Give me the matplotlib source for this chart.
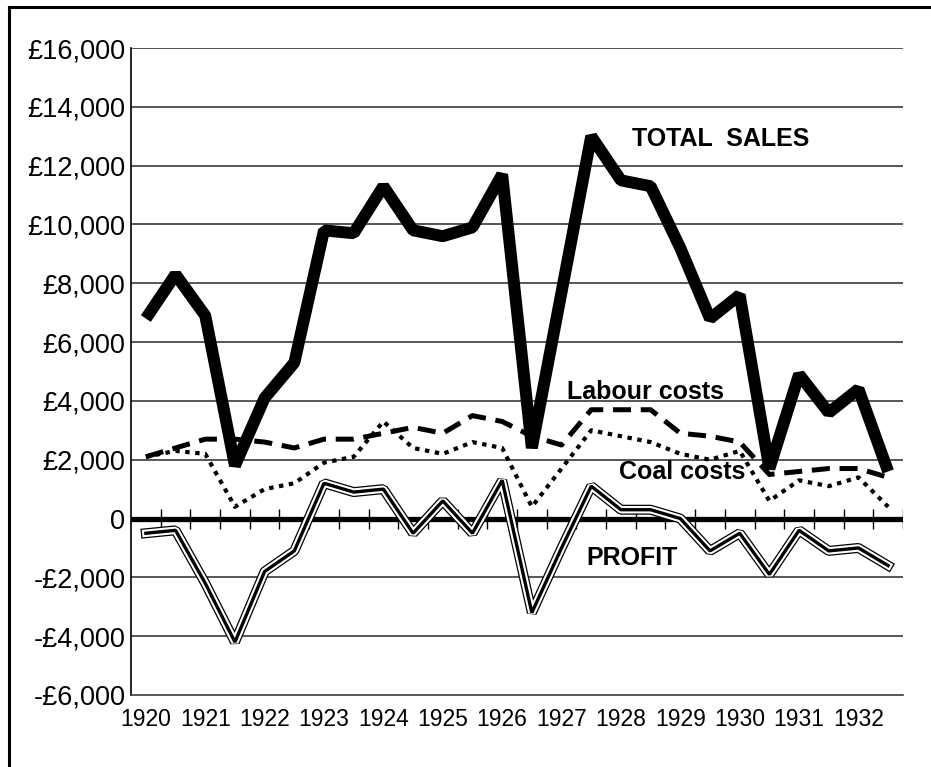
import matplotlib
matplotlib.use("Agg")
import matplotlib.pyplot as plt
from matplotlib.lines import Line2D

# half-year points, 1920 .. 1932.5
years = [str(y) for y in range(1920, 1933)]
sales = [6800, 8300, 6900, 1800, 4100, 5300, 9800, 9700, 11300, 9800, 9600, 9900, 11700,
         2400, 7700, 13000, 11500, 11300, 9200, 6800, 7600, 1700, 4900, 3600, 4400, 1600]
labour = [2100, 2400, 2700, 2700, 2600, 2400, 2700, 2700, 2900, 3100, 2900, 3500, 3300,
          2800, 2500, 3700, 3700, 3700, 2900, 2800, 2600, 1500, 1600, 1700, 1700, 1400]
coal = [2100, 2300, 2200, 400, 1000, 1200, 1900, 2100, 3300, 2400, 2200, 2600, 2400,
        400, 1700, 3000, 2800, 2600, 2200, 2000, 2300, 600, 1300, 1100, 1400, 400]
profit = [-500, -400, -2200, -4200, -1800, -1100, 1200, 900, 1000, -500, 600, -500, 1300,
          -3200, -1000, 1100, 300, 300, 0, -1100, -500, -1900, -400, -1100, -1000, -1600]
yticks = list(range(-6000, 16001, 2000))

plt.rcParams['lines.scale_dashes'] = False
W, H = 931, 767
fig = plt.figure(figsize=(W / 100, H / 100), dpi=100)
fig.patch.set_facecolor('white')

# frame round the picture (cut off at right and bottom)
fig.add_artist(Line2D([8.5 / W, 8.5 / W], [0, 1 - 7 / H], color='black', lw=2.2))
fig.add_artist(Line2D([8.5 / W, 1], [1 - 7 / H, 1 - 7 / H], color='black', lw=2.2))

ax = fig.add_axes([131 / W, (H - 695) / H, (903 - 131) / W, (695 - 48) / H])
n = len(sales)
x = list(range(n))
ax.set_xlim(-0.5, n - 0.5)
ax.set_ylim(-6000, 16000)

for v in yticks[1:]:
    if v != 0:
        ax.axhline(v, color='#3a3a3a', lw=1.2, zorder=1)
ax.axhline(0, color='black', lw=3.8, zorder=2)
ax.vlines([k - 0.5 for k in range(1, n + 1)], -340, 340, color='black', lw=1, zorder=2)

ax.plot(x, coal, color='black', lw=3.0, dashes=(3.2, 4.0), dash_capstyle='butt', zorder=3)
ax.plot(x, labour, color='black', lw=3.6, dashes=(13, 7), dash_capstyle='butt', zorder=4)
ax.plot(x, profit, color='black', lw=7.2, solid_joinstyle='bevel', zorder=5)
ax.plot(x, profit, color='white', lw=5.4, solid_joinstyle='bevel', zorder=5)
ax.plot(x, profit, color='black', lw=2.4, solid_joinstyle='bevel', zorder=5)
ax.plot(x, sales, color='black', lw=8.6, solid_joinstyle='bevel', solid_capstyle='butt', zorder=6)

def money(v):
    if v == 0:
        return '0'
    return ('-' if v < 0 else '') + '£{:,}'.format(abs(v))

ax.set_yticks(yticks)
ax.set_yticklabels([money(v) for v in yticks], fontfamily=['Liberation Sans'], fontsize=19.5)
ax.set_xticks(list(range(0, n, 2)))
ax.set_xticklabels(years, fontfamily=['Liberation Sans'], fontsize=16.5)
ax.tick_params(axis='y', length=0, pad=4)
ax.tick_params(axis='x', length=0, pad=9)

for s in ['top', 'right']:
    ax.spines[s].set_visible(False)
ax.spines['left'].set_color('black')
ax.spines['left'].set_linewidth(1.2)
ax.spines['bottom'].set_color('#3a3a3a')
ax.spines['bottom'].set_linewidth(1.2)

lab = dict(fontfamily='Liberation Sans', fontweight='bold', fontsize=18,
           ha='center', va='baseline', zorder=7)
ax.text(19.35, 12674, 'TOTAL  SALES', **lab)
ax.text(16.82, 4054, 'Labour costs', **lab)
ax.text(18.07, 1329, 'Coal costs', **lab)
ax.text(16.38, -1567, 'PROFIT', **lab)

fig.savefig('out.png', dpi=100, facecolor='white')
